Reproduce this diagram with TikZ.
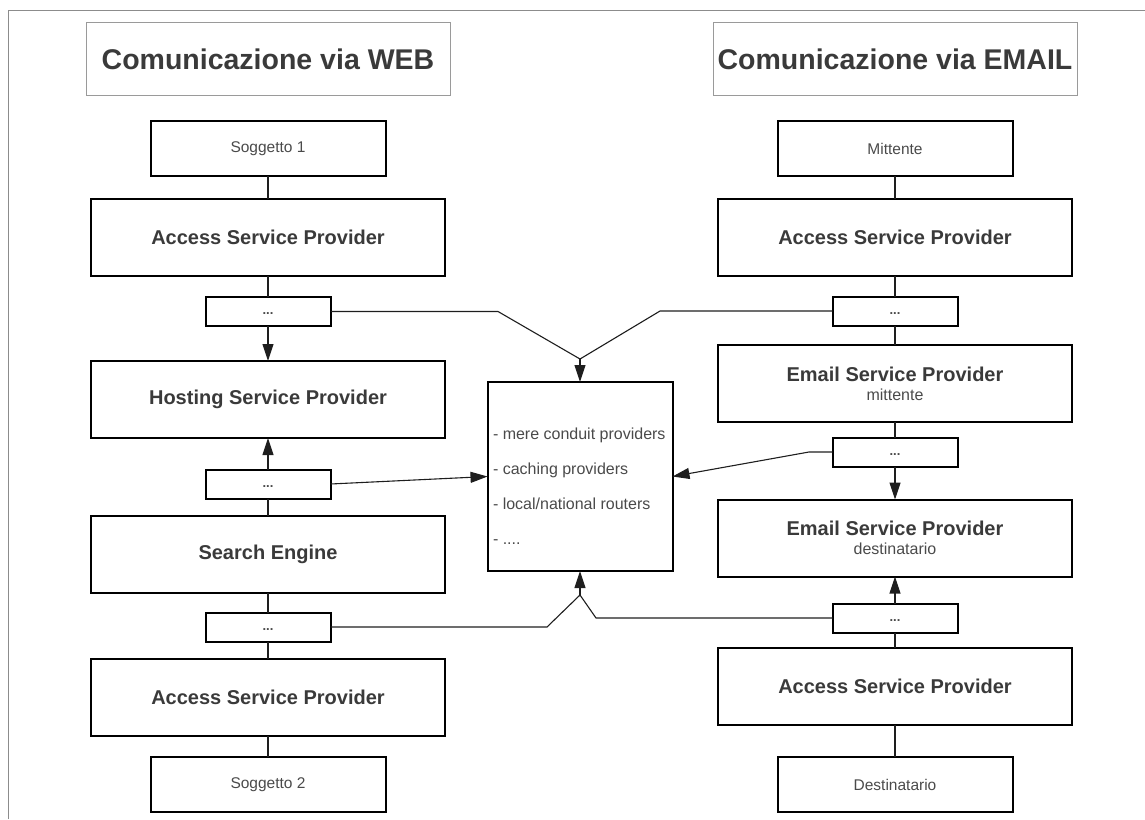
\documentclass[tikz,border=0pt]{standalone}
\usepackage{fontspec}
\setmainfont{Liberation Sans}
\usetikzlibrary{arrows.meta}
\definecolor{ink}{HTML}{3A3A3A}
\definecolor{softink}{HTML}{4A4A4A}
\definecolor{framegray}{HTML}{8C8C8C}
\definecolor{titlegray}{HTML}{9A9A9A}
\definecolor{wirecol}{HTML}{1E1E1E}

\begin{document}
\begin{tikzpicture}[x=1pt,y=-1pt,
  every node/.style={inner sep=0pt, outer sep=0pt, text=ink},
  titlebox/.style={draw=titlegray, line width=1pt, minimum width=364pt,
    minimum height=73pt, font=\fontsize{28.5}{32}\selectfont\bfseries},
  endbox/.style={draw=black, line width=2pt, minimum width=235pt,
    minimum height=55pt, text=softink, font=\fontsize{15.5}{18}\selectfont},
  provbox/.style={draw=black, line width=2pt, minimum width=354pt,
    minimum height=77pt, align=center, font=\fontsize{20}{19}\selectfont\bfseries},
  dotbox/.style={draw=black, line width=2pt, minimum width=125pt,
    minimum height=29pt, text=softink, text height=6pt, text depth=0pt,
    font=\fontsize{13}{15}\selectfont\bfseries},
  hubbox/.style={draw=black, line width=2pt, minimum width=185pt, minimum height=189pt},
  wire/.style={draw=wirecol, line width=1.1pt},
  arrowwire/.style={wire, -{Triangle[length=17pt,width=11pt]}}
]
\useasboundingbox (0,0) rectangle (1145,819);

% outer frame
\draw[framegray, line width=1pt] (8,819) -- (8,10) -- (1145,10);

% titles
\node[titlebox] (titleL) at (268,59) {Comunicazione via WEB};
\node[titlebox] (titleR) at (895,59) {Comunicazione via EMAIL};

% web column
\node[endbox]  (sog1)   at (268,148.5) {Soggetto 1};
\node[provbox] (aspL1)  at (268,237)   {Access Service Provider};
\node[dotbox]  (dotsL1) at (268,311.5) {...};
\node[provbox] (hsp)    at (268,399.5) {Hosting Service Provider};
\node[dotbox]  (dotsL2) at (268,484)   {...};
\node[provbox] (se)     at (268,554.5) {Search Engine};
\node[dotbox]  (dotsL3) at (268,627)   {...};
\node[provbox] (aspL2)  at (268,697.5) {Access Service Provider};
\node[endbox]  (sog2)   at (268,784.5) {Soggetto 2};

% email column
\node[endbox]  (mitt)   at (895,148.5) {Mittente};
\node[provbox] (aspR1)  at (895,237)   {Access Service Provider};
\node[dotbox]  (dotsR1) at (895,311)   {...};
\node[provbox] (espM)   at (895,383.5) {Email Service Provider\\{\fontsize{16}{19}\selectfont\mdseries\color{softink}mittente}};
\node[dotbox]  (dotsR2) at (895,452)   {...};
\node[provbox] (espD)   at (895,538)   {Email Service Provider\\{\fontsize{16}{19}\selectfont\mdseries\color{softink}destinatario}};
\node[dotbox]  (dotsR3) at (895,618)   {...};
\node[provbox] (aspR2)  at (895,686)   {Access Service Provider};
\node[endbox]  (dest)   at (895,784.5) {Destinatario};

% intermediaries
\node[hubbox] (hub) at (580,476.5) {};
\node[anchor=west, align=left, text=softink, font=\fontsize{16}{35}\selectfont]
  (hubtxt) at (493,486.5)
  {- mere conduit providers\\- caching providers\\- local/national routers\\- ....};

% chain links
\foreach \a/\b in {sog1/aspL1, aspL1/dotsL1, dotsL2/se, se/dotsL3, dotsL3/aspL2,
                   aspL2/sog2, mitt/aspR1, aspR1/dotsR1, dotsR1/espM, espM/dotsR2,
                   dotsR3/aspR2, aspR2/dest}
  \draw[wire] (\a) -- (\b);

\draw[arrowwire] (dotsL1) -- (hsp);
\draw[arrowwire] (dotsL2) -- (hsp);
\draw[arrowwire] (dotsR2) -- (espD);
\draw[arrowwire] (dotsR3) -- (espD);

% routes into the intermediaries
\coordinate (jt) at (580,359);
\coordinate (jb) at (580,595);
\coordinate (bL1) at (498,311.5);
\coordinate (bR1) at (660,311);
\coordinate (bR2) at (809,452);
\coordinate (bL3) at (547,627);
\coordinate (bR3) at (596,618);

\draw[wire] (dotsL1.east) -- (bL1) -- (jt);
\draw[wire] (dotsR1.west) -- (bR1) -- (jt);
\draw[arrowwire] (jt) -- (hub.north);

\draw[arrowwire] (dotsL2.east) -- (hub.west);
\draw[arrowwire] (dotsR2.west) -- (bR2) -- (hub.east);

\draw[wire] (dotsL3.east) -- (bL3) -- (jb);
\draw[wire] (dotsR3.west) -- (bR3) -- (jb);
\draw[arrowwire] (jb) -- (hub.south);
\end{tikzpicture}
\end{document}
